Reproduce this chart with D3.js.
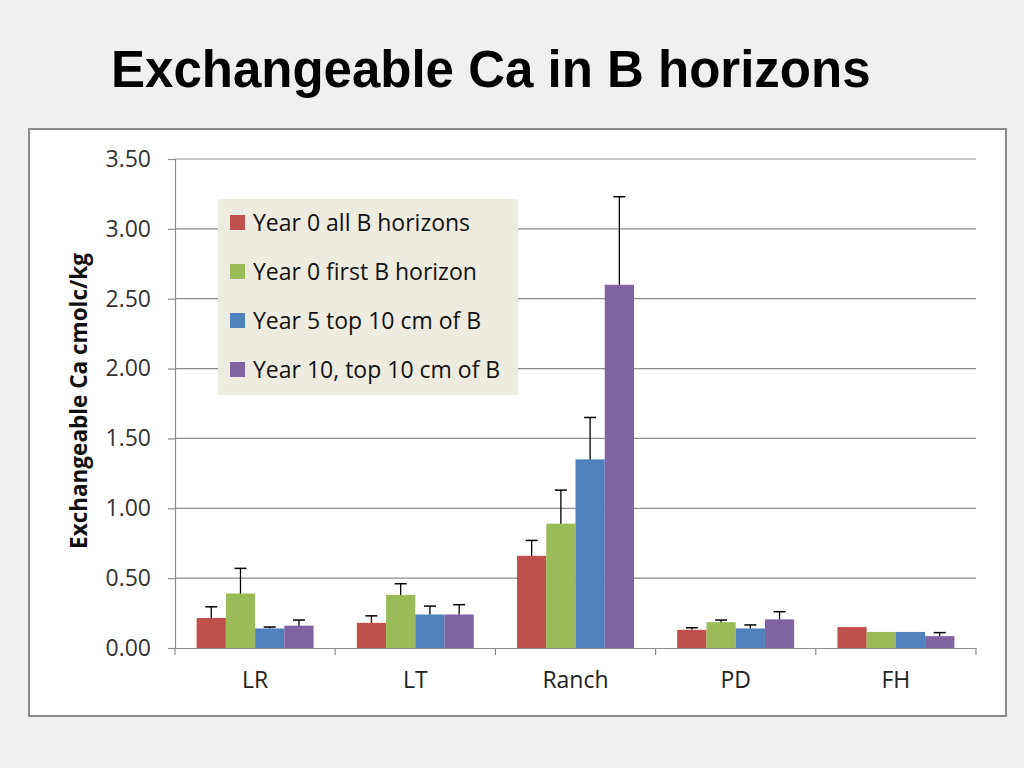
<!DOCTYPE html>
<html><head><meta charset="utf-8">
<script src="https://cdn.jsdelivr.net/npm/d3@7/dist/d3.min.js"></script>
<style>body{margin:0;background:#f0f0f0;}svg{display:block;}</style>
</head><body>
<svg id="c" width="1024" height="768"></svg>
<script>
const categories = ["LR", "LT", "Ranch", "PD", "FH"];
const seriesNames = ["Year 0 all B horizons", "Year 0 first B horizon", "Year 5 top 10 cm of B", "Year 10, top 10 cm of B"];
const seriesColors = ["#c0504d", "#9bbb59", "#4f81bd", "#8064a2"];
const year0All = [0.215, 0.18, 0.66, 0.13, 0.15];
const year0First = [0.39, 0.38, 0.89, 0.185, 0.115];
const year5 = [0.14, 0.24, 1.35, 0.14, 0.115];
const year10 = [0.16, 0.24, 2.60, 0.205, 0.085];
const err0All = [0.08, 0.05, 0.11, 0.015, 0];
const err0First = [0.18, 0.08, 0.24, 0.015, 0];
const err5 = [0.01, 0.06, 0.30, 0.025, 0];
const err10 = [0.04, 0.07, 0.63, 0.055, 0.025];
const yTicks = [0, 0.5, 1.0, 1.5, 2.0, 2.5, 3.0, 3.5];

const values = [year0All, year0First, year5, year10];
const errs = [err0All, err0First, err5, err10];

const svg = d3.select("#c");
// frame
svg.append("rect").attr("x", 29).attr("y", 129).attr("width", 977).attr("height", 587)
  .attr("fill", "#fff").attr("stroke", "#8c8c8c").attr("stroke-width", 2);

// title
svg.append("text").attr("x", 111).attr("y", 87)
  .attr("font-family", "Liberation Sans, Arial, sans-serif").attr("font-weight", "bold")
  .attr("font-size", 51).attr("fill", "#000").text("Exchangeable Ca in B horizons");

const L = 175, R = 976, T = 159, B = 648;
const x = d3.scaleBand().domain(categories).range([L, R]).paddingInner(0.27).paddingOuter(0.135);
const xs = d3.scaleBand().domain(d3.range(4)).range([0, x.bandwidth()]);
const y = d3.scaleLinear().domain([0, 3.5]).range([B, T]);

const font = "'Open Sans', Lato, sans-serif";

// gridlines
svg.append("g").selectAll("line").data(yTicks.slice(1)).join("line")
  .attr("x1", L).attr("x2", R).attr("y1", d => y(d)).attr("y2", d => y(d))
  .attr("stroke", "#8c8c8c").attr("stroke-width", 1.2);

// y axis
const yAxis = svg.append("g").attr("transform", `translate(${L},0)`)
  .call(d3.axisLeft(y).tickValues(yTicks).tickFormat(d3.format(".2f")).tickSize(7).tickPadding(17));
yAxis.select(".domain").attr("stroke", "#8c8c8c").attr("stroke-width", 1.2);
yAxis.selectAll(".tick line").attr("stroke", "#8c8c8c").attr("stroke-width", 1.2);
yAxis.selectAll(".tick text").attr("font-family", font).attr("font-size", 23).attr("fill", "#333");

// x axis
const xAxis = svg.append("g").attr("transform", `translate(0,${B})`)
  .call(d3.axisBottom(x).tickSize(0).tickPadding(24));
xAxis.select(".domain").attr("stroke", "#8c8c8c").attr("stroke-width", 1.2);
xAxis.selectAll(".tick text").attr("font-family", font).attr("font-size", 23).attr("fill", "#222");
const bounds = d3.range(categories.length + 1).map(i => L + i * (R - L) / categories.length);
xAxis.append("g").selectAll("line").data(bounds).join("line")
  .attr("x1", d => d).attr("x2", d => d).attr("y1", 0).attr("y2", 7)
  .attr("stroke", "#8c8c8c").attr("stroke-width", 1.2);

// bars
values.forEach((vals, s) => {
  const g = svg.append("g");
  g.selectAll("rect").data(vals).join("rect")
    .attr("x", (d, i) => x(categories[i]) + xs(s))
    .attr("width", xs.bandwidth())
    .attr("y", d => y(d)).attr("height", d => B - y(d))
    .attr("fill", seriesColors[s]);
  const eg = svg.append("g");
  vals.forEach((v, i) => {
    const e = errs[s][i];
    if (e <= 0) return;
    const cx = x(categories[i]) + xs(s) + xs.bandwidth() / 2;
    eg.append("line").attr("x1", cx).attr("x2", cx).attr("y1", y(v)).attr("y2", y(v + e))
      .attr("stroke", "#000").attr("stroke-width", 1.3);
    eg.append("line").attr("x1", cx - 6).attr("x2", cx + 6).attr("y1", y(v + e)).attr("y2", y(v + e))
      .attr("stroke", "#000").attr("stroke-width", 1.5);
  });
});

// legend
const lg = svg.append("g").attr("transform", "translate(218,199)");
lg.append("rect").attr("width", 300).attr("height", 196).attr("fill", "#eeece1");
seriesNames.forEach((n, i) => {
  const yy = 24 + i * 49;
  lg.append("rect").attr("x", 12).attr("y", yy - 8).attr("width", 15).attr("height", 15).attr("fill", seriesColors[i]);
  lg.append("text").attr("x", 35).attr("y", yy + 8).attr("font-family", font).attr("font-size", 23)
    .attr("fill", "#111").text(n);
});

// y label
svg.append("text").attr("transform", "translate(87,401) rotate(-90)").attr("text-anchor", "middle")
  .attr("font-family", font).attr("font-weight", "bold").attr("font-size", 22.5).attr("fill", "#111")
  .text("Exchangeable Ca cmolc/kg");
</script>
</body></html>
